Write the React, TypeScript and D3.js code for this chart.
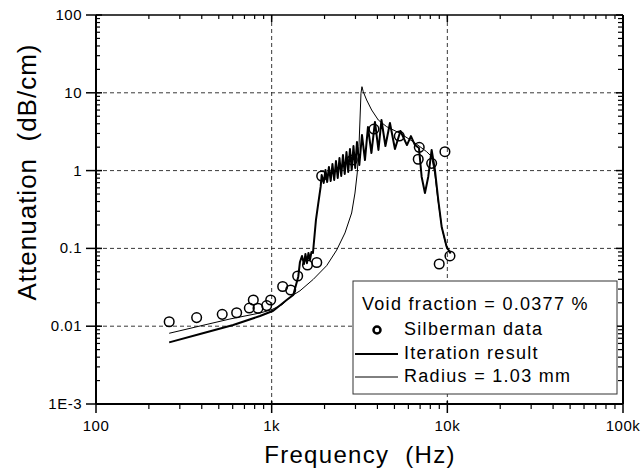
import React from 'react';
import * as d3 from 'd3';

// ---- Data ----
const xMajorTicks = [100, 1000, 10000, 100000];
const xMajorLabels = ['100', '1k', '10k', '100k'];
const yMajorTicks = [0.001, 0.01, 0.1, 1, 10, 100];
const yMajorLabels = ['1E-3', '0.01', '0.1', '1', '10', '100'];
const xGrid = [1000, 10000];
const yGrid = [0.01, 0.1, 1, 10];

const silbermanFreq = [261, 374, 523, 632, 746, 786, 836, 937, 987, 1155, 1283, 1406, 1599, 1806, 1926, 2876, 3822, 5325, 6920, 6828, 8141, 9690, 8990, 10350];
const silbermanAtten = [0.0114, 0.0129, 0.0142, 0.0149, 0.0171, 0.0217, 0.017, 0.0184, 0.0217, 0.0324, 0.0292, 0.0442, 0.0612, 0.0659, 0.853, 1.37, 3.42, 2.78, 1.99, 1.40, 1.24, 1.75, 0.063, 0.080];

const iterFreq = [261, 391, 604, 858, 1021, 1217, 1327, 1417, 1449, 1488, 1527, 1557, 1588, 1620, 1652, 1685, 1718, 1787, 1842, 1901, 1926, 1978, 2024, 2071, 2118, 2168, 2218, 2270, 2323, 2377, 2432, 2489, 2546, 2606, 2666, 2728, 2791, 2856, 2922, 2990, 3059, 3155, 3266, 3397, 3533, 3698, 3872, 4054, 4217, 4442, 4713, 5033, 5408, 5890, 6205, 6541, 6894, 7140, 7457, 7787, 8141, 8501, 8880, 9281, 9909, 10442];
const iterAtten = [0.0062, 0.00794, 0.01036, 0.01352, 0.0158, 0.0217, 0.0252, 0.0433, 0.0669, 0.0798, 0.063, 0.0847, 0.0646, 0.0873, 0.071, 0.0899, 0.0873, 0.232, 0.38, 0.621, 0.878, 0.693, 1.018, 0.714, 1.113, 0.735, 1.216, 0.757, 1.329, 0.803, 1.452, 0.852, 1.587, 0.904, 1.734, 0.959, 1.896, 1.018, 2.07, 1.08, 2.33, 1.18, 2.87, 1.368, 3.63, 1.683, 4.22, 1.84, 4.47, 2.07, 4.09, 1.896, 3.23, 2.13, 2.78, 2.13, 1.953, 0.835, 0.515, 0.835, 1.84, 1.018, 0.419, 0.19, 0.105, 0.0857];

const radiusFreq = [261, 391, 579, 858, 1000, 1150, 1271, 1449, 1725, 2056, 2344, 2614, 2853, 2980, 3070, 3140, 3182, 3224, 3266, 3321, 3473, 3709, 4045, 4514, 5373, 6396, 6985, 7625, 8143, 8501, 8843, 9318, 9817, 10346];
const radiusAtten = [0.00811, 0.01006, 0.01238, 0.01478, 0.0163, 0.019, 0.0237, 0.0285, 0.04, 0.06, 0.095, 0.158, 0.285, 0.515, 0.932, 2.03, 4.47, 9.85, 11.98, 10.33, 8.08, 6.01, 4.47, 3.67, 3.02, 2.35, 2.03, 1.75, 1.51, 0.878, 0.419, 0.183, 0.111, 0.0873];

const legendTitle = 'Void fraction = 0.0377 %';
const legendLabels = ['Silberman data', 'Iteration result', 'Radius = 1.03 mm'];

const FONT = '"Liberation Sans", Arial, Helvetica, sans-serif';

export default function App() {
  const W = 643, H = 472;
  const left = 96, right = 623, top = 15, bottom = 404;
  const x = d3.scaleLog().domain([100, 100000]).range([left, right]);
  const y = d3.scaleLog().domain([0.001, 100]).range([bottom, top]);

  const isMajor = (v: number) => Math.abs(Math.log10(v) - Math.round(Math.log10(v))) < 1e-6;
  const xMinor = x.ticks().filter((v) => !isMajor(v));
  const yMinor = y.ticks().filter((v) => !isMajor(v));

  const line = d3.line<[number, number]>().x((d) => x(d[0])).y((d) => y(d[1]));
  const iterPts: [number, number][] = iterFreq.map((f, i) => [f, iterAtten[i]]);
  const radPts: [number, number][] = radiusFreq.map((f, i) => [f, radiusAtten[i]]);

  const lg = { x: 353, y: 281, w: 264, h: 113 };

  return (
    <svg width={W} height={H} style={{ position: 'absolute', left: 0, top: 0, background: '#fff' }} fontFamily={FONT}>
      <rect x={0} y={0} width={W} height={H} fill="#fff" />
      {/* grid */}
      {yGrid.map((v) => (
        <line key={'gy' + v} x1={left} x2={right} y1={y(v)} y2={y(v)} stroke="#222" strokeWidth={0.9} strokeDasharray="4,3" />
      ))}
      {xGrid.map((v) => (
        <line key={'gx' + v} x1={x(v)} x2={x(v)} y1={top} y2={bottom} stroke="#222" strokeWidth={0.9} strokeDasharray="4,3" />
      ))}

      {/* curves */}
      <path d={line(radPts) || ''} fill="none" stroke="#000" strokeWidth={1} />
      <path d={line(iterPts) || ''} fill="none" stroke="#000" strokeWidth={2} strokeLinejoin="round" />
      {silbermanFreq.map((f, i) => (
        <circle key={'c' + i} cx={x(f)} cy={y(silbermanAtten[i])} r={4.8} fill="none" stroke="#000" strokeWidth={1.5} />
      ))}

      {/* axes frame */}
      <line x1={left} x2={right} y1={top} y2={top} stroke="#000" strokeWidth={1.5} />
      <line x1={left} x2={right} y1={bottom} y2={bottom} stroke="#000" strokeWidth={2} />
      <line x1={left} x2={left} y1={top} y2={bottom} stroke="#000" strokeWidth={2} />
      <line x1={right} x2={right} y1={top} y2={bottom} stroke="#000" strokeWidth={2} />

      {/* x ticks */}
      {xMinor.map((v, i) => (
        <g key={'xm' + i}>
          <line x1={x(v)} x2={x(v)} y1={bottom} y2={bottom + 5} stroke="#000" strokeWidth={1.2} />
          <line x1={x(v)} x2={x(v)} y1={top} y2={top + 4} stroke="#000" strokeWidth={1.2} />
        </g>
      ))}
      {xMajorTicks.map((v, i) => (
        <g key={'xM' + i}>
          <line x1={x(v)} x2={x(v)} y1={bottom - 3} y2={bottom + 9} stroke="#000" strokeWidth={1.5} />
          <line x1={x(v)} x2={x(v)} y1={top} y2={top + 7} stroke="#000" strokeWidth={1.5} />
          <text x={x(v)} y={431} textAnchor="middle" fontSize={15} letterSpacing={0.5}>{xMajorLabels[i]}</text>
        </g>
      ))}
      {/* y ticks */}
      {yMinor.map((v, i) => (
        <g key={'ym' + i}>
          <line x1={left} x2={left + 4} y1={y(v)} y2={y(v)} stroke="#000" strokeWidth={1.2} />
          <line x1={right - 5} x2={right} y1={y(v)} y2={y(v)} stroke="#000" strokeWidth={1.2} />
        </g>
      ))}
      {yMajorTicks.map((v, i) => (
        <g key={'yM' + i}>
          <line x1={left - 10} x2={left + 6} y1={y(v)} y2={y(v)} stroke="#000" strokeWidth={1.5} />
          <line x1={right - 7} x2={right} y1={y(v)} y2={y(v)} stroke="#000" strokeWidth={1.5} />
          <text x={82} y={y(v) + 5} textAnchor="end" fontSize={15} letterSpacing={0.5}>{yMajorLabels[i]}</text>
        </g>
      ))}

      {/* axis titles */}
      <text x={360} y={463} textAnchor="middle" fontSize={24} letterSpacing={1.3} style={{ whiteSpace: 'pre' }}>Frequency  (Hz)</text>
      <text transform="translate(36,172) rotate(-90)" textAnchor="middle" fontSize={26} letterSpacing={1} style={{ whiteSpace: 'pre' }}>Attenuation  (dB/cm)</text>

      {/* legend */}
      <rect x={lg.x} y={lg.y} width={lg.w} height={lg.h} fill="#fff" stroke="#333" strokeWidth={1} />
      <text x={362} y={310} fontSize={18} letterSpacing={1.3}>{legendTitle}</text>
      <circle cx={377} cy={330} r={3.5} fill="none" stroke="#000" strokeWidth={2.5} />
      <text x={404} y={335} fontSize={18} letterSpacing={1.3}>{legendLabels[0]}</text>
      <line x1={355} x2={398} y1={354} y2={354} stroke="#000" strokeWidth={2} />
      <text x={404} y={359} fontSize={18} letterSpacing={1.3}>{legendLabels[1]}</text>
      <line x1={355} x2={398} y1={377} y2={377} stroke="#000" strokeWidth={1} />
      <text x={404} y={382} fontSize={18} letterSpacing={1.3}>{legendLabels[2]}</text>
    </svg>
  );
}
